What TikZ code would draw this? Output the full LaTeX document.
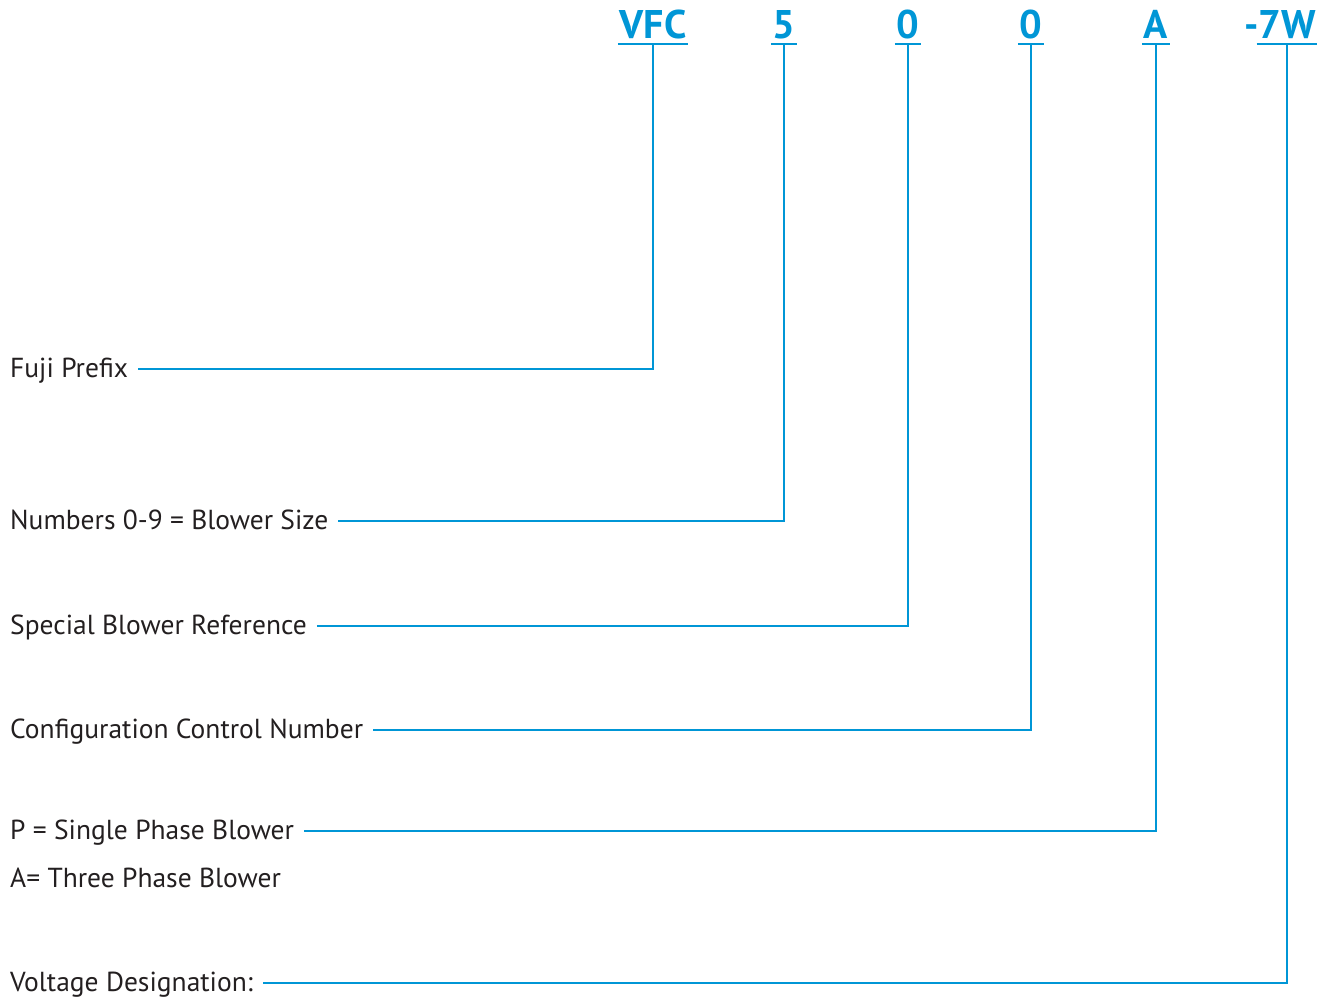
\documentclass[tikz,border=0pt]{standalone}
\usepackage{fontspec}
\setmainfont{PT Sans}
\definecolor{fujiblue}{RGB}{0,150,214}
\definecolor{inkgray}{RGB}{35,31,32}

\begin{document}
\begin{tikzpicture}[x=1pt,y=-1pt]
% Define styles
\tikzset{
    code/.style={font=\fontsize{40}{40}\selectfont\bfseries, text=fujiblue, anchor=base, inner xsep=1.5pt, inner ysep=6pt, text depth=0pt},
    desc/.style={font=\fontsize{27.5}{27.5}\selectfont, text=inkgray, anchor=base west, inner xsep=10pt, inner ysep=0pt, text height=19pt, text depth=3pt},
    lead/.style={draw=fujiblue, line width=1.6pt}
}
\useasboundingbox (0,0) rectangle (1328,1001);

% Model code
\node[code] (pre)  at (653,38)  {VFC};
\node[code] (size) at (784,38)  {5};
\node[code] (spec) at (908,38)  {0};
\node[code] (conf) at (1031,38) {0};
\node[code] (phase) at (1156,38) {A};
\node[code] (volt) at (1287,38) {\llap{-}7W};

% Underlines
\foreach \c in {pre, size, spec, conf, phase, volt} {
    \draw[lead] (\c.south west) -- (\c.south east);
}

% Descriptions
\node[desc] (lpre)   at (0,377) {Fuji Prefix};
\node[desc] (lsize)  at (0,529) {Numbers 0-9 = Blower Size};
\node[desc] (lspec)  at (0,634) {Special Blower Reference};
\node[desc] (lconf)  at (0,738) {Configuration Control Number};
\node[desc] (lphase) at (0,839) {P = Single Phase Blower};
\node[desc] (lthree) at (0,887) {A= Three Phase Blower};
\node[desc] (lvolt)  at (0,991) {Voltage Designation:};

% Leaders
\draw[lead] (lpre.east) -| (pre.south);
\draw[lead] (lsize.east) -| (size.south);
\draw[lead] (lspec.east) -| (spec.south);
\draw[lead] (lconf.east) -| (conf.south);
\draw[lead] (lphase.east) -| (phase.south);
\draw[lead] (lvolt.east) -| (volt.south);

\end{tikzpicture}
\end{document}
